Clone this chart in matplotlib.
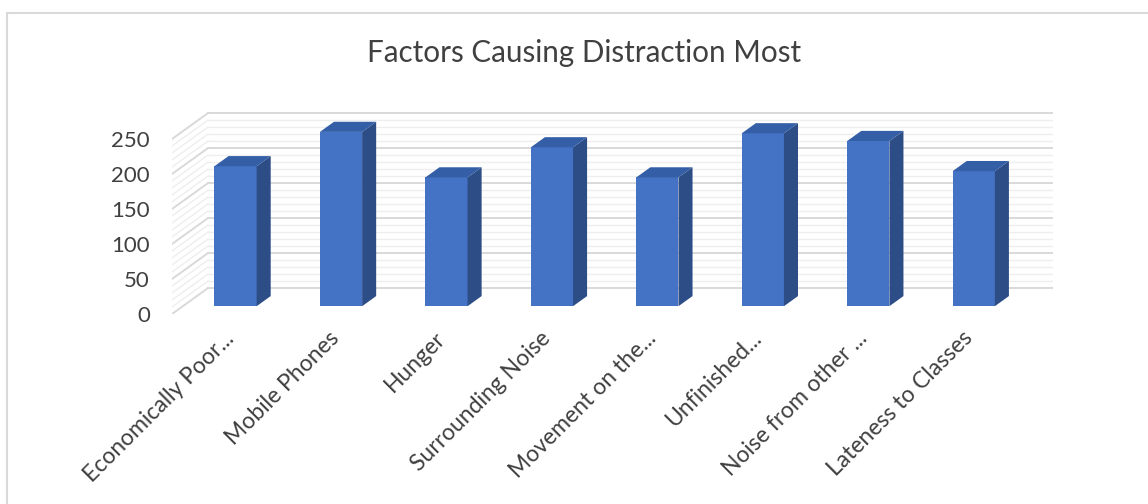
import numpy as np
import matplotlib.pyplot as plt
from matplotlib.patches import Polygon, Rectangle
import matplotlib.transforms as mtransforms

plt.rcParams['font.family'] = ['Lato', 'DejaVu Sans']

# data
factors = ['Economically Poor...', 'Mobile Phones', 'Hunger', 'Surrounding Noise',
           'Movement on the...', 'Unfinished...', 'Noise from other ...', 'Lateness to Classes']
counts = [200, 249, 184, 227, 184, 247, 236, 193]
yticks = [0, 50, 100, 150, 200, 250]

# fake 3d geometry (category units / value units)
DX, DY = 0.342, 37.1      # full depth of floor
d_front, d_bar = 0.30, 0.39  # where the bars sit in depth, and how deep they are
bar_w = 0.40
txt = '#404040'

fig = plt.figure(figsize=(11.48, 5.04), dpi=100)
W, H = 1148, 504
# axes = front floor left edge .. back wall right edge
ax = fig.add_axes([172 / W, (H - 314) / H, (1053 - 172) / W, (314 - 100) / H])
ax.set_xlim(-0.5, 7.854)
ax.set_ylim(0, 305.7)
for s in ax.spines.values():
    s.set_visible(False)

# back wall + side wall grid
n = len(factors)
for v in range(0, 251, 10):
    major = v % 50 == 0
    c = '#d9d9d9' if major else '#eeeeee'
    lw = 1.4 if major else 1.0
    ax.plot([-0.5 + DX, n - 0.5 + DX], [v + DY, v + DY], color=c, lw=lw, zorder=1)
    ax.plot([-0.5, -0.5 + DX], [v, v + DY], color=c, lw=lw, zorder=1)

# bars
x = np.arange(n)
xf = x + d_front * DX
base = d_front * DY
ax.bar(xf, counts, width=bar_w, bottom=base, color='#4472C4', zorder=3)
ddx, ddy = d_bar * DX, d_bar * DY
for xi, v in zip(xf, counts):
    xl, xr = xi - bar_w / 2, xi + bar_w / 2
    side = Polygon([(xr, base), (xr + ddx, base + ddy), (xr + ddx, base + v + ddy), (xr, base + v)],
                   closed=True, fc='#2d4d87', ec='none', zorder=3)
    top = Polygon([(xl, base + v), (xr, base + v), (xr + ddx, base + v + ddy), (xl + ddx, base + v + ddy)],
                  closed=True, fc='#345ea6', ec='none', zorder=3)
    ax.add_patch(side)
    ax.add_patch(top)

ax.set_yticks(yticks)
ax.set_yticklabels([str(t) for t in yticks], fontsize=16, color=txt)
ax.tick_params(axis='y', length=0, pad=16)

ax.set_xticks(x)
ax.set_xticklabels(factors, fontsize=16.5, color=txt, rotation=45, ha='right',
                   va='center', rotation_mode='anchor')
ax.tick_params(axis='x', length=0, pad=0)
off = mtransforms.ScaledTranslation(6 / 100, -21 / 100, fig.dpi_scale_trans)
for lab in ax.get_xticklabels():
    lab.set_transform(lab.get_transform() + off)

fig.text(584 / W, 1 - 53 / H, 'Factors Causing Distraction Most', ha='center', va='center',
         fontsize=21.3, color=txt)

# chart area border
fig.patches.append(Rectangle((7 / W, -0.1), 1.2, (H - 13) / H + 0.1, transform=fig.transFigure,
                             fill=False, ec='#d9d9d9', lw=1.5))

fig.savefig('out.png', dpi=100, facecolor='white')
